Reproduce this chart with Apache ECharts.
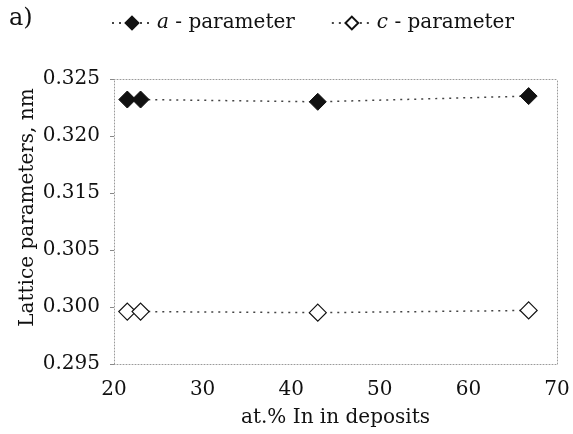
<!DOCTYPE html>
<html><head><meta charset="utf-8">
<script src="https://cdn.jsdelivr.net/npm/echarts@6/dist/echarts.min.js"></script>
<style>html,body{margin:0;padding:0;background:#fff}#c{width:573px;height:434px}</style>
</head><body><div id="c"></div>
<script>
const xIn = [21.5, 23.0, 43.0, 66.8];
const aParam = [0.3232, 0.3232, 0.3230, 0.3235];
const cParam = [0.2996, 0.2996, 0.2995, 0.2997];
const yTickLabels = ['0.295', '0.300', '0.305', '0.315', '0.320', '0.325'];
const xTickLabels = ['20', '30', '40', '50', '60', '70'];
const seriesNames = ['a - parameter', 'c - parameter'];

const FONT = 'DejaVu Serif';
const chart = echarts.init(document.getElementById('c'));
const dotted = { color: '#9a9a9a', width: 1, type: [1, 2] };
const plain = (pos) => ({
  type: 'value', min: 0.295, max: 0.325, position: pos,
  axisLine: { show: true, onZero: false, lineStyle: dotted }, axisTick: { show: false }, axisLabel: { show: false }, splitLine: { show: false }
});

chart.setOption({
  backgroundColor: '#fff',
  animation: false,
  title: { text: 'a)', left: 4, top: 2, textStyle: { fontFamily: FONT, fontSize: 24, fontWeight: 'normal', color: '#111' } },
  legend: {
    left: 106, top: 8, itemWidth: 40, itemHeight: 16, itemGap: 36,
    data: seriesNames,
    formatter: n => '{i|' + n.charAt(0) + '}' + n.slice(1),
    textStyle: { fontFamily: FONT, fontSize: 20, color: '#111',
      rich: { i: { fontFamily: FONT, fontSize: 20, fontStyle: 'italic', color: '#111' } } }
  },
  grid: { left: 114, right: 16, top: 79, bottom: 70, containLabel: false, outerBoundsMode: 'none' },
  xAxis: [{
    type: 'value', min: 20, max: 70, interval: 10,
    name: 'at.% In in deposits', nameLocation: 'middle', nameGap: 44, nameMoveOverlap: false,
    nameTextStyle: { fontFamily: FONT, fontSize: 20, color: '#111' },
    axisLine: { show: true, onZero: false, lineStyle: dotted },
    axisTick: { show: false },
    splitLine: { show: false },
    axisLabel: { fontFamily: FONT, fontSize: 20, color: '#111', margin: 16,
      formatter: v => { const s = String(Math.round(v)); return xTickLabels.includes(s) ? s : ''; } }
  }, {
    type: 'value', min: 20, max: 70, position: 'top',
    axisLine: { show: true, onZero: false, lineStyle: dotted }, axisTick: { show: false }, axisLabel: { show: false }, splitLine: { show: false }
  }],
  yAxis: [{
    type: 'value', min: 0.295, max: 0.325, interval: 0.005,
    breaks: [{ start: 0.305, end: 0.315, gap: 0.005 }],
    breakArea: { show: false },
    name: 'Lattice parameters, nm', nameLocation: 'middle', nameGap: 76, nameMoveOverlap: false,
    nameTextStyle: { fontFamily: FONT, fontSize: 20, color: '#111', padding: [0, 0, 0, 28] },
    axisLine: { show: false },
    axisTick: { show: true, length: 4, lineStyle: { color: '#888' } },
    splitLine: { show: false },
    axisLabel: { fontFamily: FONT, fontSize: 20, color: '#111', margin: 14,
      formatter: v => { const s = (Math.round(v * 1000) / 1000).toFixed(3); return yTickLabels.includes(s) ? s : ''; } }
  }, plain('right'), plain('left')],
  series: [{
    name: seriesNames[0], type: 'line',
    data: xIn.map((x, i) => [x, aParam[i]]),
    symbol: 'diamond', symbolSize: 17,
    itemStyle: { color: '#111', borderColor: '#111', borderWidth: 1 },
    lineStyle: { color: '#444', width: 1.5, type: [2, 5] }
  }, {
    name: seriesNames[1], type: 'line',
    data: xIn.map((x, i) => [x, cParam[i]]),
    symbol: 'diamond', symbolSize: 17,
    itemStyle: { color: '#fff', borderColor: '#111', borderWidth: 1.2 },
    lineStyle: { color: '#444', width: 1.5, type: [2, 5] }
  }]
});
</script></body></html>
